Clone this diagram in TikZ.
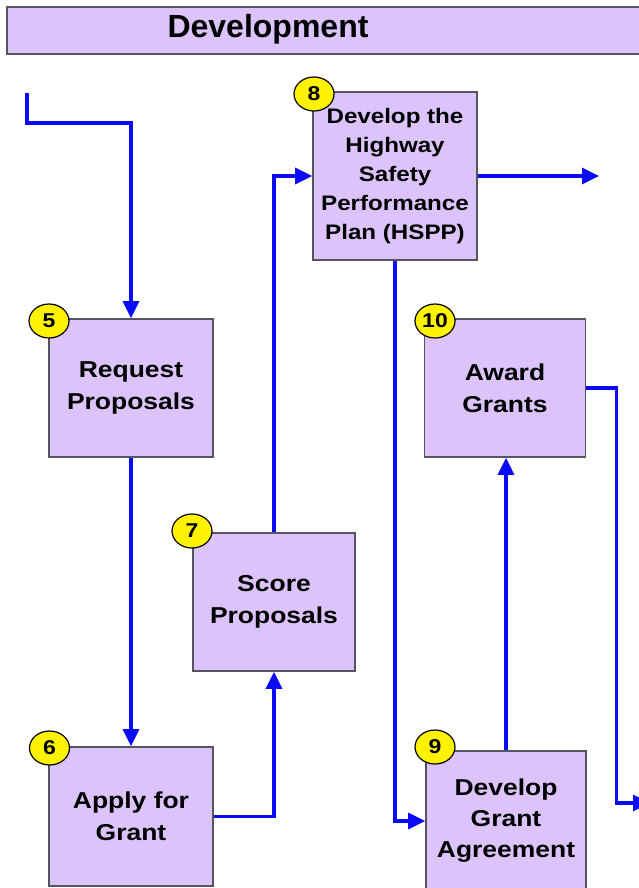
\documentclass[tikz,border=0pt]{standalone}
\usepackage{fontspec}
\setmainfont{Liberation Sans}
\newfontfamily\boxfont{Liberation Sans}[FakeStretch=1.15]
\newfontfamily\titlefont{Liberation Sans}[FakeStretch=1.0]
\usetikzlibrary{arrows.meta,shapes.geometric}
\definecolor{lavender}{RGB}{220,196,250}
\definecolor{boxline}{RGB}{85,85,95}
\definecolor{flowblue}{RGB}{10,10,245}

\begin{document}
\begin{tikzpicture}[x=1pt,y=-1pt]


\tikzset{
  StepBox/.style = { rectangle, draw=boxline, line width=1.6pt, fill=lavender,
                     align=center, inner sep=0pt,
                     font = \boxfont\bfseries\fontsize{23}{32}\selectfont },
  Badge/.style = { ellipse, draw=black, line width=1.2pt, fill=yellow,
                   minimum width=40pt, minimum height=34pt, inner sep=0pt,
                   font = \boxfont\bfseries\fontsize{20}{20}\selectfont },
  Flow/.style = { draw=flowblue, line width=3.2pt,
                  -{Triangle[length=17pt,width=16pt]} } }
  \useasboundingbox (0,0) rectangle (639,888);
  \clip (0,0) rectangle (639,888);

  % title bar
  \draw[draw=boxline, line width=1.6pt, fill=lavender] (7,7) rectangle (660,54);
  \node[anchor=base, font=\titlefont\bfseries\fontsize{32}{32}\selectfont] (title) at (268,38) {Development};

  % steps
  \node[StepBox, minimum width=164pt, minimum height=138pt] (p5) at (131, 388) {Request\\Proposals};
  \node[StepBox, minimum width=164pt, minimum height=139pt] (p6) at (131, 816.5) {Apply for\\Grant};
  \node[StepBox, minimum width=162pt, minimum height=138pt] (p7) at (274, 602) {Score\\Proposals};
  \node[StepBox, minimum width=164pt, minimum height=168pt,
        font=\boxfont\bfseries\fontsize{21}{29}\selectfont] (p8) at (395, 176)
        {Develop the\\Highway\\Safety\\Performance\\Plan (HSPP)};
  \node[StepBox, minimum width=160pt, minimum height=140pt,
        font=\boxfont\bfseries\fontsize{23}{31}\selectfont] (p9) at (506, 821) {Develop\\Grant\\Agreement};
  \node[StepBox, minimum width=161pt, minimum height=138pt] (p10) at (505, 388) {Award\\Grants};

  % numbers
  \node[Badge] (n5) at (49, 321) {5};
  \node[Badge] (n6) at (49.5, 748) {6};
  \node[Badge] (n7) at (192, 531) {7};
  \node[Badge] (n8) at (314, 94) {8};
  \node[Badge] (n9) at (435, 747) {9};
  \node[Badge] (n10) at (435, 321) {10};

  % loose ends
  \coordinate (in) at (27, 93);
  \coordinate (out1) at (599, 176);
  \coordinate (out2) at (650, 803);

  \draw[Flow] (in) -- ++(0,30) -| (p5.north);
  \draw[Flow] (p5.south) -- (p6.north);
  \draw[Flow] (p6.east) -| (p7.south);
  \draw[Flow] (p7.north) |- (p8.west);
  \draw[Flow] (p8.east) -- (out1);
  \draw[Flow] (p8.south) |- (p9.west);
  \draw[Flow] (p9.north) -- (p9.north |- p10.south);
  \draw[Flow] (p10.east) -- ++(30,0) |- (out2);

\end{tikzpicture}
\end{document}
